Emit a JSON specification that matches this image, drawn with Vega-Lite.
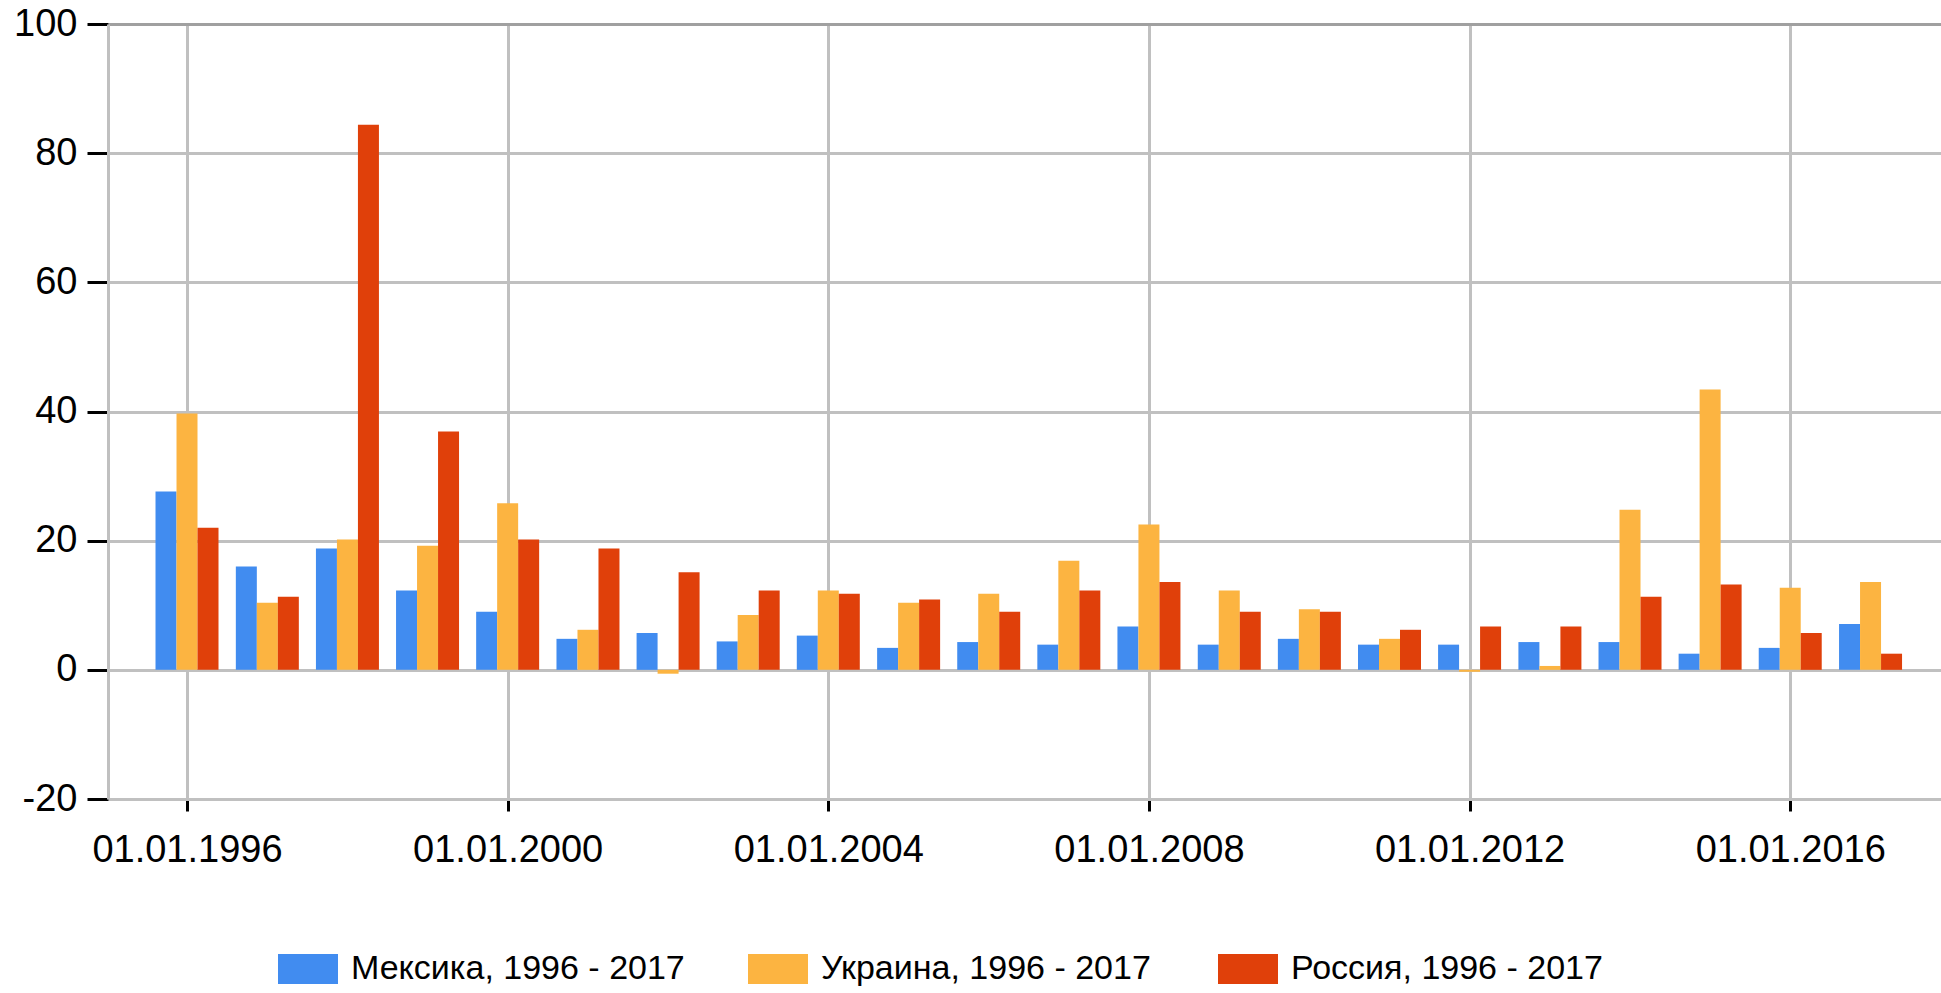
{
  "$schema": "https://vega.github.io/schema/vega-lite/v6.json",
  "autosize": {"type": "none"},
  "padding": {"left": 108, "top": 24, "right": 0, "bottom": 194},
  "width": 1833,
  "height": 775,
  "background": "white",
  "config": {"view": {"stroke": null}, "font": "Liberation Sans"},
  "data": {"values": [
    {"date": "1996-01-01", "country": "Мексика, 1996 - 2017", "value": 27.6},
    {"date": "1997-01-01", "country": "Мексика, 1996 - 2017", "value": 16.0},
    {"date": "1998-01-01", "country": "Мексика, 1996 - 2017", "value": 18.8},
    {"date": "1999-01-01", "country": "Мексика, 1996 - 2017", "value": 12.3},
    {"date": "2000-01-01", "country": "Мексика, 1996 - 2017", "value": 9.0},
    {"date": "2001-01-01", "country": "Мексика, 1996 - 2017", "value": 4.8},
    {"date": "2002-01-01", "country": "Мексика, 1996 - 2017", "value": 5.7},
    {"date": "2003-01-01", "country": "Мексика, 1996 - 2017", "value": 4.4},
    {"date": "2004-01-01", "country": "Мексика, 1996 - 2017", "value": 5.3},
    {"date": "2005-01-01", "country": "Мексика, 1996 - 2017", "value": 3.4},
    {"date": "2006-01-01", "country": "Мексика, 1996 - 2017", "value": 4.3},
    {"date": "2007-01-01", "country": "Мексика, 1996 - 2017", "value": 3.9},
    {"date": "2008-01-01", "country": "Мексика, 1996 - 2017", "value": 6.7},
    {"date": "2009-01-01", "country": "Мексика, 1996 - 2017", "value": 3.9},
    {"date": "2010-01-01", "country": "Мексика, 1996 - 2017", "value": 4.8},
    {"date": "2011-01-01", "country": "Мексика, 1996 - 2017", "value": 3.9},
    {"date": "2012-01-01", "country": "Мексика, 1996 - 2017", "value": 3.9},
    {"date": "2013-01-01", "country": "Мексика, 1996 - 2017", "value": 4.3},
    {"date": "2014-01-01", "country": "Мексика, 1996 - 2017", "value": 4.3},
    {"date": "2015-01-01", "country": "Мексика, 1996 - 2017", "value": 2.5},
    {"date": "2016-01-01", "country": "Мексика, 1996 - 2017", "value": 3.4},
    {"date": "2017-01-01", "country": "Мексика, 1996 - 2017", "value": 7.1},
    {"date": "1996-01-01", "country": "Украина, 1996 - 2017", "value": 39.7},
    {"date": "1997-01-01", "country": "Украина, 1996 - 2017", "value": 10.4},
    {"date": "1998-01-01", "country": "Украина, 1996 - 2017", "value": 20.2},
    {"date": "1999-01-01", "country": "Украина, 1996 - 2017", "value": 19.2},
    {"date": "2000-01-01", "country": "Украина, 1996 - 2017", "value": 25.8},
    {"date": "2001-01-01", "country": "Украина, 1996 - 2017", "value": 6.2},
    {"date": "2002-01-01", "country": "Украина, 1996 - 2017", "value": -0.6},
    {"date": "2003-01-01", "country": "Украина, 1996 - 2017", "value": 8.5},
    {"date": "2004-01-01", "country": "Украина, 1996 - 2017", "value": 12.3},
    {"date": "2005-01-01", "country": "Украина, 1996 - 2017", "value": 10.4},
    {"date": "2006-01-01", "country": "Украина, 1996 - 2017", "value": 11.8},
    {"date": "2007-01-01", "country": "Украина, 1996 - 2017", "value": 16.9},
    {"date": "2008-01-01", "country": "Украина, 1996 - 2017", "value": 22.5},
    {"date": "2009-01-01", "country": "Украина, 1996 - 2017", "value": 12.3},
    {"date": "2010-01-01", "country": "Украина, 1996 - 2017", "value": 9.4},
    {"date": "2011-01-01", "country": "Украина, 1996 - 2017", "value": 4.8},
    {"date": "2012-01-01", "country": "Украина, 1996 - 2017", "value": -0.3},
    {"date": "2013-01-01", "country": "Украина, 1996 - 2017", "value": 0.6},
    {"date": "2014-01-01", "country": "Украина, 1996 - 2017", "value": 24.8},
    {"date": "2015-01-01", "country": "Украина, 1996 - 2017", "value": 43.4},
    {"date": "2016-01-01", "country": "Украина, 1996 - 2017", "value": 12.7},
    {"date": "2017-01-01", "country": "Украина, 1996 - 2017", "value": 13.6},
    {"date": "1996-01-01", "country": "Россия, 1996 - 2017", "value": 22.0},
    {"date": "1997-01-01", "country": "Россия, 1996 - 2017", "value": 11.3},
    {"date": "1998-01-01", "country": "Россия, 1996 - 2017", "value": 84.4},
    {"date": "1999-01-01", "country": "Россия, 1996 - 2017", "value": 36.9},
    {"date": "2000-01-01", "country": "Россия, 1996 - 2017", "value": 20.2},
    {"date": "2001-01-01", "country": "Россия, 1996 - 2017", "value": 18.8},
    {"date": "2002-01-01", "country": "Россия, 1996 - 2017", "value": 15.1},
    {"date": "2003-01-01", "country": "Россия, 1996 - 2017", "value": 12.3},
    {"date": "2004-01-01", "country": "Россия, 1996 - 2017", "value": 11.8},
    {"date": "2005-01-01", "country": "Россия, 1996 - 2017", "value": 10.9},
    {"date": "2006-01-01", "country": "Россия, 1996 - 2017", "value": 9.0},
    {"date": "2007-01-01", "country": "Россия, 1996 - 2017", "value": 12.3},
    {"date": "2008-01-01", "country": "Россия, 1996 - 2017", "value": 13.6},
    {"date": "2009-01-01", "country": "Россия, 1996 - 2017", "value": 9.0},
    {"date": "2010-01-01", "country": "Россия, 1996 - 2017", "value": 9.0},
    {"date": "2011-01-01", "country": "Россия, 1996 - 2017", "value": 6.2},
    {"date": "2012-01-01", "country": "Россия, 1996 - 2017", "value": 6.7},
    {"date": "2013-01-01", "country": "Россия, 1996 - 2017", "value": 6.7},
    {"date": "2014-01-01", "country": "Россия, 1996 - 2017", "value": 11.3},
    {"date": "2015-01-01", "country": "Россия, 1996 - 2017", "value": 13.2},
    {"date": "2016-01-01", "country": "Россия, 1996 - 2017", "value": 5.7},
    {"date": "2017-01-01", "country": "Россия, 1996 - 2017", "value": 2.5}
  ]},
  "encoding": {
    "x": {
      "field": "date",
      "type": "temporal",
      "scale": {
        "type": "utc",
        "nice": false,
        "padding": 0,
        "domain": [
          {"year": 1995, "month": 1, "date": 6, "utc": true},
          {"year": 2017, "month": 11, "date": 18, "utc": true}
        ]
      },
      "axis": {
        "title": null,
        "format": "%d.%m.%Y",
        "values": [
          {"year": 1996, "month": 1, "date": 1, "utc": true},
          {"year": 2000, "month": 1, "date": 1, "utc": true},
          {"year": 2004, "month": 1, "date": 1, "utc": true},
          {"year": 2008, "month": 1, "date": 1, "utc": true},
          {"year": 2012, "month": 1, "date": 1, "utc": true},
          {"year": 2016, "month": 1, "date": 1, "utc": true}
        ],
        "grid": true,
        "gridColor": "#c0c0c0",
        "gridWidth": 3,
        "domainColor": "#c0c0c0",
        "domainWidth": 3,
        "tickColor": "black",
        "tickWidth": 3,
        "tickSize": 12,
        "labelFontSize": 38,
        "labelFont": "Liberation Sans",
        "labelColor": "black",
        "labelPadding": 20,
        "labelLimit": 1000,
        "labelFlush": false,
        "labelOverlap": false
      }
    },
    "y": {
      "field": "value",
      "type": "quantitative",
      "stack": null,
      "scale": {"domain": [-20, 100], "nice": false},
      "axis": {
        "title": null,
        "values": [-20, 0, 20, 40, 60, 80, 100],
        "labelExpr": "toString(datum.value)",
        "grid": true,
        "gridColor": {"condition": {"test": "datum.value === 100", "value": "#a0a0a0"}, "value": "#c0c0c0"},
        "gridWidth": 3,
        "domainColor": "#c0c0c0",
        "domainWidth": 3,
        "tickColor": "black",
        "tickWidth": 3,
        "tickSize": 21,
        "labelFontSize": 38,
        "labelFont": "Liberation Sans",
        "labelColor": "black",
        "labelPadding": 10,
        "labelLimit": 1000,
        "labelFlush": false,
        "labelOverlap": false
      }
    },
    "color": {
      "field": "country",
      "type": "nominal",
      "scale": {
        "domain": ["Мексика, 1996 - 2017", "Украина, 1996 - 2017", "Россия, 1996 - 2017"],
        "range": ["#418CF0", "#FCB441", "#E0400A"]
      },
      "legend": {
        "orient": "none",
        "legendX": 170,
        "legendY": 915,
        "direction": "horizontal",
        "title": null,
        "symbolType": "M-1,-0.5H1V0.5H-1Z",
        "symbolSize": 3600,
        "symbolStrokeWidth": 0,
        "symbolOpacity": 1,
        "labelFontSize": 34,
        "labelFont": "Liberation Sans",
        "labelColor": "black",
        "labelOffset": 13,
        "labelLimit": 0,
        "columnPadding": 63,
        "gridAlign": "all",
        "padding": 0
      }
    }
  },
  "layer": [
    {
      "transform": [{"filter": "datum.country === 'Мексика, 1996 - 2017'"}],
      "mark": {"type": "bar", "width": 21, "xOffset": -21, "orient": "vertical"}
    },
    {
      "transform": [{"filter": "datum.country === 'Украина, 1996 - 2017'"}],
      "mark": {"type": "bar", "width": 21, "xOffset": 0, "orient": "vertical"}
    },
    {
      "transform": [{"filter": "datum.country === 'Россия, 1996 - 2017'"}],
      "mark": {"type": "bar", "width": 21, "xOffset": 21, "orient": "vertical"}
    }
  ]
}
